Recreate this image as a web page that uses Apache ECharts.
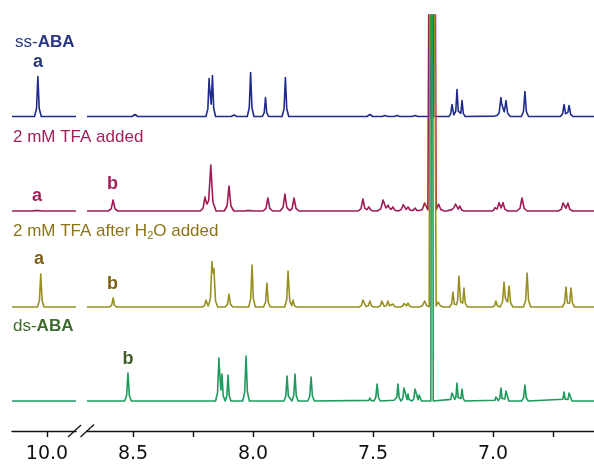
<!DOCTYPE html>
<html>
<head>
<meta charset="utf-8">
<script src="https://cdn.jsdelivr.net/npm/echarts@6/dist/echarts.min.js"></script>
<style>
html, body {margin: 0; padding: 0; background: #fff;}
#chart {width: 594px; height: 467px;}
</style>
</head>
<body>
<div id="chart"></div>
<script>
// peak lists: [ppm, height, half width of base (ppm)]
var ssPeaks = [
    [10.038, 40, 0.014],
    [8.492, 2, 0.012], [8.183, 38, 0.013], [8.169, 41, 0.013], [8.079, 1.5, 0.012],
    [8.010, 44, 0.014], [7.948, 19, 0.013], [7.865, 39, 0.014],
    [7.513, 2, 0.012], [7.450, 1, 0.012], [7.400, 1, 0.012], [7.325, 1, 0.012],
    [7.254, 3000, 0.0069],
    [7.171, 12, 0.013], [7.150, 27, 0.013], [7.129, 16, 0.013],
    [6.988, 2, 0.012], [6.967, 19, 0.018], [6.946, 16, 0.018], [6.867, 25, 0.015],
    [6.704, 12, 0.016], [6.683, 11, 0.016]
];
var tfaPeaks = [
    [10.042, 2, 0.02],
    [8.583, 11, 0.02], [8.200, 14, 0.02], [8.176, 46, 0.022], [8.100, 25, 0.02],
    [8.017, 2, 0.02], [7.938, 13, 0.02], [7.867, 17, 0.02], [7.829, 13, 0.02],
    [7.542, 12, 0.02], [7.517, 4, 0.02], [7.458, 11, 0.024], [7.438, 6, 0.02],
    [7.417, 4, 0.02], [7.375, 7, 0.02], [7.354, 4, 0.02], [7.325, 3, 0.02],
    [7.285, 8, 0.024], [7.254, 3000, 0.0172], [7.227, 7, 0.024],
    [7.179, 3, 0.015], [7.158, 9, 0.018], [7.138, 5, 0.018],
    [6.992, 3, 0.015], [6.975, 8, 0.02], [6.958, 8, 0.02], [6.879, 13, 0.022],
    [6.708, 8, 0.02], [6.688, 8, 0.02]
];
var waterPeaks = [
    [10.026, 33, 0.014],
    [8.583, 9, 0.014], [8.196, 7, 0.015], [8.171, 40, 0.016], [8.163, 32, 0.016],
    [8.100, 13, 0.016], [8.004, 42, 0.014], [7.942, 24, 0.014], [7.854, 36, 0.014],
    [7.833, 7, 0.014],
    [7.542, 7, 0.016], [7.513, 6, 0.016], [7.463, 6, 0.016], [7.438, 6, 0.016],
    [7.417, 3, 0.016], [7.371, 4, 0.016], [7.354, 4, 0.016],
    [7.285, 6, 0.022], [7.254, 3000, 0.012], [7.228, 5, 0.022],
    [7.167, 15, 0.014], [7.142, 31, 0.014], [7.121, 19, 0.014],
    [6.988, 6, 0.014], [6.954, 25, 0.016], [6.933, 21, 0.016], [6.858, 34, 0.015],
    [6.696, 20, 0.015], [6.675, 19, 0.015]
];
var dsPeaks = [
    [8.521, 28, 0.014], [8.142, 43, 0.014], [8.129, 26, 0.012], [8.104, 26, 0.012],
    [8.029, 45, 0.014], [7.858, 25, 0.013], [7.825, 27, 0.013], [7.758, 24, 0.014],
    [7.513, 3, 0.012], [7.483, 17, 0.014], [7.408, 4, 0.01], [7.396, 17, 0.012],
    [7.371, 13, 0.012], [7.354, 7, 0.01], [7.325, 12, 0.012], [7.308, 6, 0.01],
    [7.254, 3000, 0.005],
    [7.171, 8, 0.012], [7.150, 18, 0.012], [7.129, 12, 0.012],
    [6.988, 4, 0.01], [6.967, 13, 0.012], [6.946, 10, 0.012], [6.867, 16, 0.014],
    [6.704, 9, 0.012], [6.683, 8, 0.012]
];
var spectra = [ssPeaks, tfaPeaks, waterPeaks, dsPeaks];
var stackOffset = [314.5, 220, 124, 30];
var lineColors = ['#1f2b8c', '#9e1a56', '#979020', '#1e9a5c'];

var tickValues = [8.5, 8.25, 8.0, 7.75, 7.5, 7.25, 7.0, 6.75];
var labelValues = [8.5, 8.0, 7.5, 7.0];
var leftTicks = [10.0];

var leftMin = 9.8792, leftMax = 10.1458;
var rightMin = 6.5792, rightMax = 8.6917;

// piecewise-linear line shape: sharp top, short tail
var KNEE_D = 0.4, KNEE_H = 0.2;
function shapeAt(pk, x) {
    var d = Math.abs(x - pk[0]) / pk[2];
    if (d >= 1) return 0;
    if (d <= KNEE_D) return pk[1] * (1 - d / KNEE_D * (1 - KNEE_H));
    return pk[1] * KNEE_H * (1 - (d - KNEE_D) / (1 - KNEE_D));
}
function buildLine(peaks, lo, hi, offset) {
    var xs = [lo, hi];
    peaks.forEach(function (pk) {
        [-1, -KNEE_D, 0, KNEE_D, 1].forEach(function (k) {
            var x = pk[0] + k * pk[2];
            if (x > lo && x < hi) xs.push(x);
        });
    });
    xs.sort(function (a, b) { return a - b; });
    return xs.map(function (x) {
        var y = offset;
        peaks.forEach(function (pk) { y += shapeAt(pk, x); });
        return [x, y];
    });
}

var series = [];
spectra.forEach(function (peaks, i) {
    [0, 1].forEach(function (g) {
        series.push({
            type: 'line',
            xAxisIndex: g,
            yAxisIndex: g,
            data: g === 0 ? buildLine(peaks, leftMin, leftMax, stackOffset[i]) : buildLine(peaks, rightMin, rightMax, stackOffset[i]),
            showSymbol: false,
            symbol: 'none',
            silent: true,
            z: 2 + i,
            lineStyle: {color: lineColors[i], width: 1.6, join: 'round'},
            animation: false
        });
    });
});

var axisFont = {fontFamily: 'DejaVu Sans', fontSize: 19, color: '#111'};

var titleFont = 'Liberation Sans';
function label(x, y, text, rich, color, align) {
    return {
        type: 'text', x: x, y: y, silent: true,
        style: {
            text: text, rich: rich, fill: color,
            fontFamily: titleFont, fontSize: 17,
            align: align || 'left', verticalAlign: 'middle'
        }
    };
}
function peakLabel(x, y, text, color) {
    return {
        type: 'text', x: x, y: y, silent: true,
        style: {
            text: text, fill: color, fontFamily: titleFont, fontSize: 18, fontWeight: 'bold',
            align: 'center', verticalAlign: 'middle'
        }
    };
}
var boldRich = {
    n: {fontFamily: titleFont, fontSize: 17},
    b: {fontFamily: titleFont, fontSize: 17, fontWeight: 'bold'}
};
var subRich = {
    n: {fontFamily: titleFont, fontSize: 17, lineHeight: 20},
    s: {fontFamily: titleFont, fontSize: 11, lineHeight: 12, verticalAlign: 'bottom'}
};

var chart = echarts.init(document.getElementById('chart'));
chart.setOption({
    animation: false,
    grid: [
        {left: 12, right: 518, top: 15, bottom: 36},
        {left: 87, right: 0, top: 15, bottom: 36}
    ],
    xAxis: [{
        type: 'value', gridIndex: 0, inverse: true, min: leftMin, max: leftMax,
        splitLine: {show: false},
        axisLine: {lineStyle: {color: '#111', width: 1.4}},
        axisTick: {customValues: leftTicks, length: 6, lineStyle: {color: '#111', width: 1.4}},
        axisLabel: Object.assign({customValues: leftTicks, margin: 14, formatter: function (v) { return v.toFixed(1); }}, axisFont)
    }, {
        type: 'value', gridIndex: 1, inverse: true, min: rightMin, max: rightMax,
        splitLine: {show: false},
        axisLine: {lineStyle: {color: '#111', width: 1.4}},
        axisTick: {customValues: tickValues, length: 6, lineStyle: {color: '#111', width: 1.4}},
        axisLabel: Object.assign({customValues: labelValues, margin: 14, formatter: function (v) { return v.toFixed(1); }}, axisFont)
    }],
    yAxis: [
        {type: 'value', gridIndex: 0, min: 0, max: 416, show: false},
        {type: 'value', gridIndex: 1, min: 0, max: 416, show: false}
    ],
    series: series,
    graphic: [
        {type: 'line', silent: true, shape: {x1: 68, y1: 437, x2: 81, y2: 425}, style: {stroke: '#111', lineWidth: 1.3}},
        {type: 'line', silent: true, shape: {x1: 80.5, y1: 437, x2: 94, y2: 424.5}, style: {stroke: '#111', lineWidth: 1.3}},
        label(15, 42, '{n|ss-}{b|ABA}', boldRich, '#2a3587'),
        label(13, 137, '2 mM TFA added', null, '#a31f5c'),
        label(13, 231, '{n|2 mM TFA after H}{s|2}{n|O added}', subRich, '#8d7418'),
        label(13, 326, '{n|ds-}{b|ABA}', boldRich, '#3d6b2f'),
        peakLabel(38, 62, 'a', '#263a75'),
        peakLabel(37, 196, 'a', '#a31f5c'),
        peakLabel(112.5, 184, 'b', '#a31f5c'),
        peakLabel(39, 259, 'a', '#7d5e14'),
        peakLabel(112.5, 284, 'b', '#7d5e14'),
        peakLabel(128, 359, 'b', '#3f5c28')
    ]
});
</script>
</body>
</html>
